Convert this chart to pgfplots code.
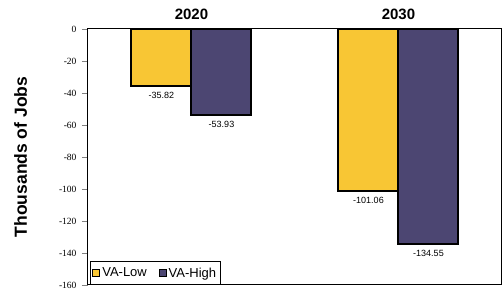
\documentclass[border=0pt]{standalone}
\usepackage{fontspec}
\setmainfont{Liberation Serif}
\setsansfont{Liberation Sans}
\usepackage{pgfplots}
\pgfplotsset{compat=1.18}
\definecolor{vlow}{HTML}{F8C634}
\definecolor{vhigh}{HTML}{4C4672}
\begin{document}
\begin{tikzpicture}
\begin{axis}[
  scale only axis,
  width=414pt, height=256pt,
  xmin=-0.5, xmax=1.5,
  ymin=-160, ymax=0,
  ybar=0pt, bar width=60pt,
  xtick={0,1}, xticklabels={2020,2030},
  xticklabel pos=upper,
  x tick style={draw=none},
  xticklabel style={font=\sffamily\bfseries\fontsize{15}{15}\selectfont, anchor=base, yshift=3pt},
  ytick={0,-20,...,-160},
  ytick pos=left, tick align=outside,
  major tick length=6pt,
  yticklabel style={font=\rmfamily\fontsize{9.5}{9.5}\selectfont, /pgf/number format/assume math mode=true, xshift=-2pt},
  ylabel={Thousands of Jobs},
  ylabel style={font=\sffamily\bfseries\fontsize{17.5}{17.5}\selectfont, at={(axis description cs:-0.163,0.5)}, anchor=center},
  axis line style={black, line width=1pt},
  nodes near coords,
  point meta=explicit symbolic,
  every node near coord/.append style={font=\sffamily\fontsize{9}{9}\selectfont, black, anchor=north, yshift=-2pt},
  legend style={at={(0.005,0)}, anchor=south west, draw=black, line width=0.8pt, font=\sffamily\fontsize{13}{13}\selectfont, inner xsep=2pt, inner ysep=4pt, legend columns=2, /tikz/every even column/.append style={column sep=10pt}},
  legend image code/.code={\draw[#1, draw=black, line width=1pt] (0cm,-0.12cm) rectangle (0.24cm,0.12cm);},
]
\addplot[fill=vlow, draw=black, line width=2pt] coordinates {(0,-35.82) [-35.82] (1,-101.06) [-101.06]};
\addplot[fill=vhigh, draw=black, line width=2pt] coordinates {(0,-53.93) [-53.93] (1,-134.55) [-134.55]};
\legend{VA-Low, VA-High}
\end{axis}
\pgfresetboundingbox
\useasboundingbox ([shift={(-88pt,-8pt)}]current axis.south west) rectangle ([shift={(2pt,29pt)}]current axis.north east);
\end{tikzpicture}
\end{document}
